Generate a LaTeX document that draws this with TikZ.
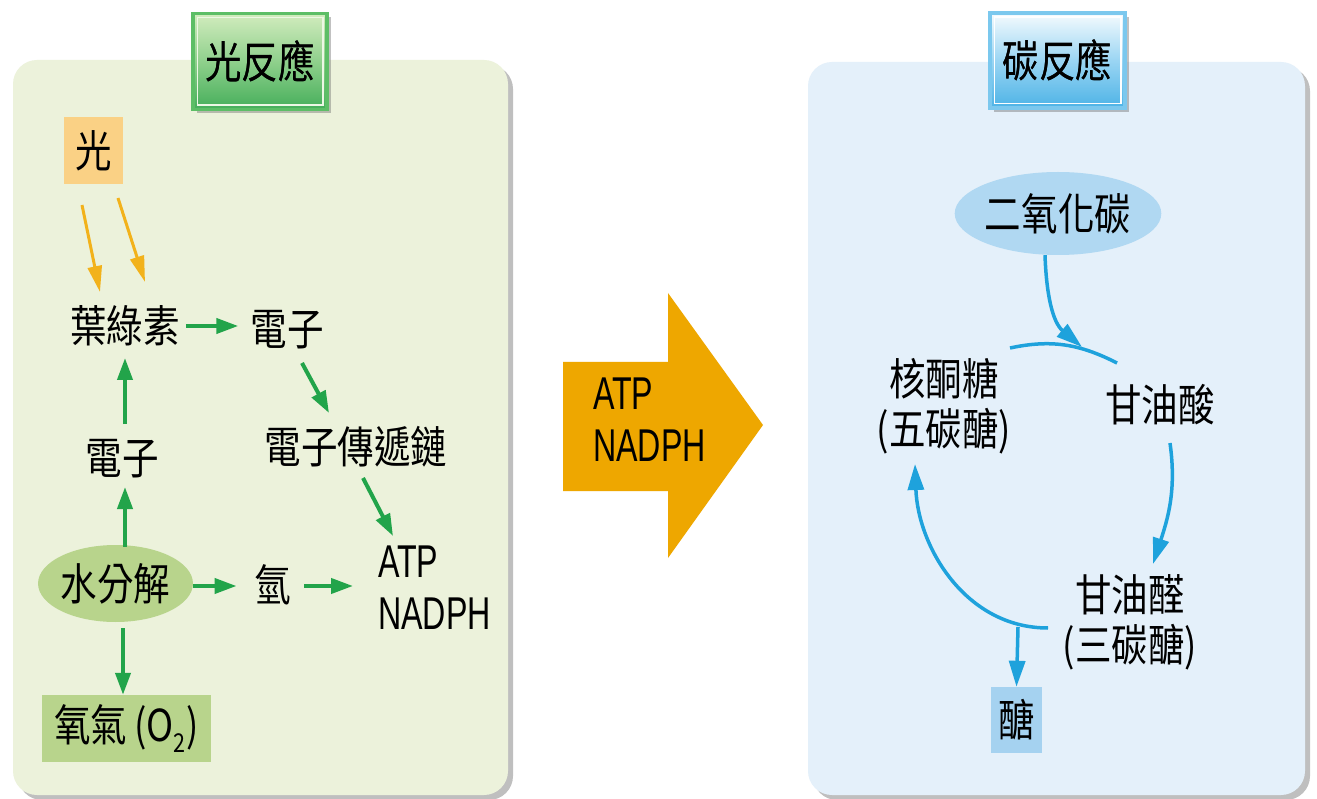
\documentclass[tikz,border=0pt]{standalone}
\usepackage{fontspec}
\newfontfamily\cjk[FakeStretch=0.83]{Noto Sans CJK TC}
\newfontfamily\latf[FakeStretch=0.70]{Liberation Sans}
\usetikzlibrary{arrows.meta,shapes.geometric,shadows,calc}
\definecolor{panelG}{HTML}{ECF2DB}
\definecolor{panelB}{HTML}{E4F0FA}
\definecolor{arrG}{HTML}{22A44A}
\definecolor{arrO}{HTML}{F2B21B}
\definecolor{arrB}{HTML}{1EA2DC}
\definecolor{lightG}{HTML}{B8D48C}
\definecolor{lightO}{HTML}{FAD185}
\definecolor{lightB}{HTML}{B0D8F2}
\definecolor{sugarB}{HTML}{A5D2F0}
\definecolor{bigO}{HTML}{EEA700}
\definecolor{titGtop}{HTML}{D2ECBE}
\definecolor{titGmid}{HTML}{8FD08C}
\definecolor{titGbot}{HTML}{45AE5A}
\definecolor{titGline}{HTML}{5DBE66}
\definecolor{titBtop}{HTML}{F5FBFE}
\definecolor{titBmid}{HTML}{9AD5F3}
\definecolor{titBbot}{HTML}{4DB3E6}
\definecolor{titBline}{HTML}{7BC8EE}
\tikzset{
  txt/.style={inner sep=0pt, font=\cjk\fontsize{44}{50}\selectfont},
  lat/.style={inner sep=0pt, align=left, font=\latf\fontsize{46}{52}\selectfont},
  panel/.style={rounded corners=24pt, drop shadow={shadow xshift=5pt, shadow yshift=-5pt, opacity=0.45, fill=black!55}},
  garr/.style={draw=arrG, line width=4pt, -{Triangle[length=22pt,width=15pt]}},
  oarr/.style={draw=arrO, line width=3pt, -{Triangle[length=26pt,width=14pt]}},
  barr/.style={draw=arrB, line width=3.5pt, -{Triangle[length=26pt,width=16pt]}},
  bline/.style={draw=arrB, line width=3.5pt},
  titbox/.style={txt, minimum width=134pt, minimum height=96pt, line width=3.5pt,
     drop shadow={shadow xshift=4pt, shadow yshift=-4pt, opacity=0.4, fill=black!60}},
  fillbox/.style={txt, inner sep=0pt}
}
\begin{document}
\begin{tikzpicture}[x=1pt,y=1pt]
\useasboundingbox (0,0) rectangle (1317,-799);
\fill[white] (0,0) rectangle (1317,-799);
% panels
\fill[panelG, panel] (13,-60) rectangle (508,-795);
\fill[panelB, panel] (808,-62) rectangle (1305,-795);

% ---------- left: light reaction ----------
\node[titbox, draw=titGline, top color=titGtop, bottom color=titGbot, middle color=titGmid] (t1) at (260,-61.5) {光反應};
\draw[white!60!titGtop, line width=1.5pt] ($(t1.south west)+(6,6)$) rectangle ($(t1.north east)+(-6,-6)$);
\node[txt] at (t1) {光反應};

\node[fillbox, fill=lightO, minimum width=59pt, minimum height=67pt] (light) at (93.5,-150.5) {光};
\node[txt] (chl) at (125,-326) {葉綠素};
\node[txt] (e1) at (287,-330) {電子};
\node[txt] (etc) at (356,-447) {電子傳遞鏈};
\node[lat, anchor=west] (atp) at (378,-588) {ATP\\NADPH};
\node[txt] (e2) at (122,-459) {電子};
\node[txt, fill=lightG, ellipse, minimum width=145pt, minimum height=77pt, inner sep=0pt] (water) at (115.5,-583.5) {水分解};
\node[txt] (hyd) at (273,-585) {氫};
\node[fillbox, fill=lightG, minimum width=169pt, minimum height=67pt] (oxy) at (126.5,-728.5) {氧氣\,(O\textsubscript{\fontsize{26}{26}\selectfont 2})};

\coordinate (o1s) at (82,-205);   \coordinate (o1e) at (100,-292);
\coordinate (o2s) at (118,-198);  \coordinate (o2e) at (145,-282);
\draw[oarr] (o1s) -- (o1e);
\draw[oarr] (o2s) -- (o2e);

\draw[garr] ([xshift=6pt]chl.east |- 0,-326) -- ([xshift=-12pt]e1.west |- 0,-326);
\draw[garr] (302,-363) -- (329,-413);
\draw[garr] (363,-478) -- (393,-536);
\draw[garr] (water.north -| 125,0) ++(0,-2) -- (125,-487);
\draw[garr] (125,-424) -- (125,-358);
\draw[garr] (water.east |- 0,-586) -- ([xshift=-18pt]hyd.west |- 0,-586);
\draw[garr] ([xshift=13pt]hyd.east |- 0,-586) -- (353,-586);
\draw[garr] (123,-628) -- (oxy.north -| 123,0);

% ---------- middle arrow ----------
\fill[bigO] (563,-362) -- (668,-362) -- (668,-293) -- (763,-425) -- (668,-558) -- (668,-491) -- (563,-491) -- cycle;
\node[lat, anchor=west] (mid) at (593,-420) {ATP\\NADPH};

% ---------- right: carbon reaction ----------
\node[titbox, draw=titBline, top color=titBtop, bottom color=titBbot, middle color=titBmid, minimum width=135pt, minimum height=95pt] (t2) at (1057.5,-60.5) {碳反應};
\draw[white!80!titBtop, line width=1.5pt] ($(t2.south west)+(6,6)$) rectangle ($(t2.north east)+(-6,-6)$);
\node[txt] at (t2) {碳反應};

\node[txt, fill=lightB, ellipse, minimum width=170pt, minimum height=83pt, inner sep=0pt] (co2) at (1058,-213.5) {二氧化碳};
\node[txt, align=center] (rubp) at (944,-406) {核酮糖\\(五碳醣)};
\node[txt] (pga) at (1160,-405) {甘油酸};
\node[txt, align=center] (g3p) at (1130,-622) {甘油醛\\(三碳醣)};
\node[fillbox, fill=sugarB, minimum width=51pt, minimum height=66pt] (sugar) at (1016.5,-720) {醣};

\coordinate (ta) at (1010,-348);
\coordinate (tb) at (1117,-363);
\coordinate (tm) at (1082,-347);
\coordinate (ra) at (1170,-443);
\coordinate (rb) at (1153,-564);
\coordinate (la) at (1048,-628);
\coordinate (lb) at (915,-464);
\coordinate (br) at (1018,-627);

\draw[bline] (ta) to[out=12,in=153] (tb);
\draw[barr] ([xshift=-13pt]co2.south) to[out=-88,in=140] (tm);
\draw[barr] (ra) to[out=-82,in=72] (rb);
\draw[barr] (la) to[out=180,in=-88] (lb);
\draw[barr] (br) -- (sugar.north);
\end{tikzpicture}
\end{document}
